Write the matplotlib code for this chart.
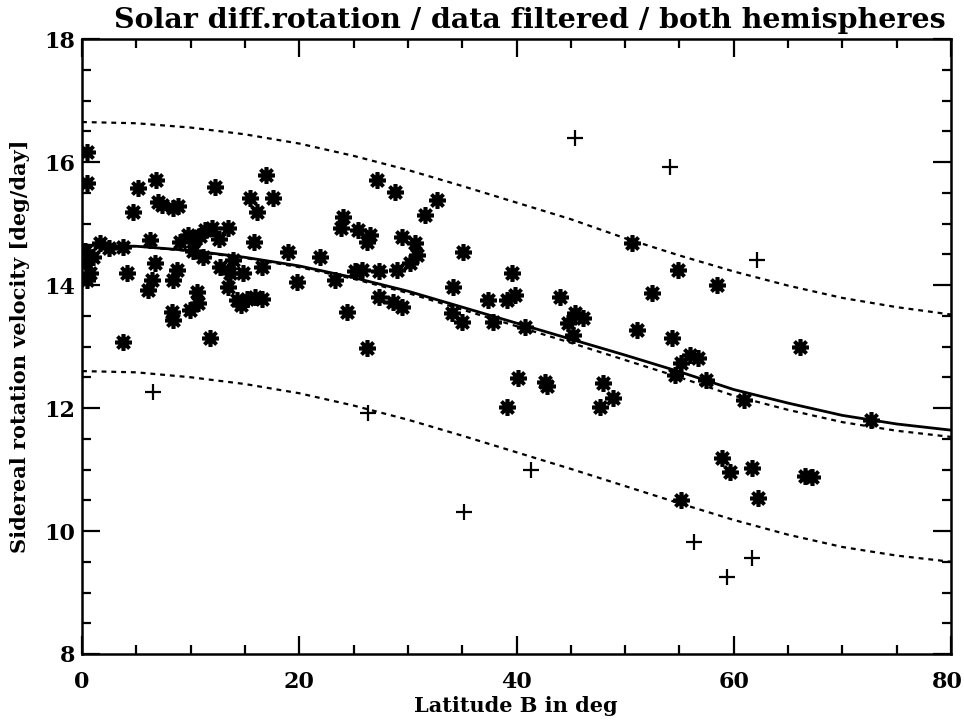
import matplotlib
matplotlib.use("Agg")
import matplotlib.pyplot as plt
import matplotlib.transforms as mtransforms

# ---- data ----
curve_lat = [0, 5, 10, 15, 20, 25, 30, 35, 40, 45, 50, 55, 60, 65, 70, 75, 80]
fit_solid = [14.65, 14.63, 14.56, 14.45, 14.31, 14.12, 13.90, 13.64, 13.38,
             13.12, 12.86, 12.59, 12.30, 12.08, 11.88, 11.74, 11.64]
fit_dashed = [14.65, 14.63, 14.55, 14.44, 14.29, 14.10, 13.87, 13.60, 13.33,
              13.06, 12.78, 12.50, 12.20, 11.97, 11.77, 11.63, 11.53]
upper_band = [16.65, 16.63, 16.56, 16.45, 16.30, 16.10, 15.87, 15.61, 15.34,
              15.07, 14.76, 14.48, 14.22, 13.99, 13.79, 13.64, 13.52]
lower_band = [12.60, 12.58, 12.50, 12.39, 12.24, 12.04, 11.81, 11.55, 11.28,
              11.01, 10.73, 10.45, 10.18, 9.94, 9.74, 9.60, 9.50]

star_lat = [0.5, 0.5, 0.4, 0.7, 0.5, 1.0, 1.7, 0.3,
            5.2, 6.8, 4.7, 7.0, 7.4, 8.4, 8.8,
            12.2, 16.9, 15.5, 17.6, 16.1, 24.0,
            3.8, 6.3, 9.0, 9.8, 10.4, 10.9, 12.0, 13.4, 15.8, 19.0, 21.9, 11.3, 12.6,
            4.1, 6.7, 6.4, 8.7, 8.4, 11.1, 12.7, 13.9, 13.6, 14.8, 16.6, 19.8, 23.3, 10.2, 2.5,
            6.1, 10.6, 13.4, 14.3, 15.2, 15.9, 16.6, 14.6, 8.3, 8.4, 9.9, 10.7, 11.8, 3.8,
            27.2, 28.8, 32.7, 31.6,
            23.8, 25.4, 26.5, 26.2, 29.5, 30.7, 30.8, 30.2, 29.0, 35.1, 25.1, 25.8, 27.3,
            27.3, 28.6, 29.5, 24.4, 26.2, 34.2, 34.1, 35.0, 37.4, 37.8, 39.1, 39.9, 39.6,
            40.8, 44.0, 45.4, 46.1, 44.7, 45.2, 40.1, 42.6, 42.8, 48.0, 48.9, 39.1, 47.7,
            50.6, 54.9, 58.5, 52.5, 51.1, 54.3, 56.0, 56.7, 55.1, 54.6, 57.4, 60.9, 66.1,
            72.6, 58.9, 59.7, 61.7, 62.2, 66.6, 67.2, 55.1]
star_vel = [16.16, 15.66, 14.36, 14.20, 14.08, 14.45, 14.68, 14.55,
            15.58, 15.71, 15.19, 15.35, 15.30, 15.25, 15.28,
            15.59, 15.79, 15.41, 15.41, 15.19, 15.10,
            14.62, 14.73, 14.70, 14.82, 14.75, 14.80, 14.93, 14.93, 14.70, 14.54, 14.46, 14.90, 14.75,
            14.20, 14.36, 14.08, 14.25, 14.08, 14.46, 14.29, 14.41, 14.20, 14.20, 14.29, 14.05, 14.08, 14.55, 14.60,
            13.92, 13.89, 13.97, 13.76, 13.77, 13.80, 13.77, 13.68, 13.56, 13.43, 13.59, 13.71, 13.14, 13.07,
            15.71, 15.51, 15.38, 15.14,
            14.93, 14.89, 14.81, 14.70, 14.78, 14.68, 14.49, 14.36, 14.25, 14.54, 14.22, 14.25, 14.22,
            13.80, 13.72, 13.65, 13.56, 12.98, 13.97, 13.54, 13.40, 13.76, 13.40, 13.76, 13.84, 14.20,
            13.32, 13.80, 13.54, 13.46, 13.38, 13.19, 12.49, 12.42, 12.36, 12.41, 12.16, 12.02, 12.02,
            14.68, 14.24, 14.00, 13.87, 13.27, 13.14, 12.86, 12.81, 12.73, 12.54, 12.46, 12.13, 12.99,
            11.80, 11.19, 10.96, 11.02, 10.54, 10.90, 10.88, 10.50]

plus_lat = [45.4, 54.1, 62.1, 6.5, 26.3, 41.3, 35.2, 56.3, 61.7, 59.4]
plus_vel = [16.39, 15.92, 14.41, 12.26, 11.92, 10.99, 10.31, 9.82, 9.56, 9.25]

title = "Solar diff.rotation / data filtered / both hemispheres"
xlabel = "Latitude B in deg"
ylabel = "Sidereal rotation velocity [deg/day]"
xticks = [0, 20, 40, 60, 80]
yticks = [8, 10, 12, 14, 16, 18]

# ---- figure ----
W, H = 964, 721
fig = plt.figure(figsize=(W / 100, H / 100), dpi=100)
ax = fig.add_axes([82 / W, 1 - 654 / H, 869 / W, 615 / H])

font = dict(family="DejaVu Serif", weight="bold")

dash = (0, (2.2, 2.2))
ax.plot(curve_lat, upper_band, color="black", lw=1.6, ls=dash, zorder=2)
ax.plot(curve_lat, lower_band, color="black", lw=1.6, ls=dash, zorder=2)
ax.plot(curve_lat, fit_dashed, color="black", lw=1.6, ls=dash, zorder=2)
ax.plot(curve_lat, fit_solid, color="black", lw=2.0, ls="-", zorder=3)

ax.plot(star_lat, star_vel, ls="none", marker=(8, 2, 0), markersize=12,
        markeredgewidth=2.6, color="black", zorder=4)
ax.plot(plus_lat, plus_vel, ls="none", marker="+", markersize=12,
        markeredgewidth=1.6, color="black", zorder=4)

ax.set_xlim(0, 80)
ax.set_ylim(8, 18)
ax.set_xticks(xticks)
ax.set_yticks(yticks)
ax.set_xticks(range(0, 81, 5), minor=True)
ax.set_yticks([8 + 0.5 * i for i in range(21)], minor=True)
ax.tick_params(which="both", direction="in", top=True, right=True, width=1.6, color="black")
ax.tick_params(which="major", length=13)
ax.tick_params(which="minor", length=6.5)
ax.tick_params(axis="y", which="major", pad=5)
ax.tick_params(axis="x", which="major", labelbottom=False)
for sp in ax.spines.values():
    sp.set_linewidth(1.8)

for lab in ax.get_yticklabels():
    lab.set_fontfamily("DejaVu Serif")
    lab.set_fontweight("bold")
    lab.set_fontsize(16)

# x tick labels drawn as text so the last one stays inside the canvas
xform = ax.get_xaxis_transform()
for v in xticks:
    tr = xform
    if v == xticks[-1]:
        tr = mtransforms.offset_copy(xform, fig=fig, x=-4, y=0, units="dots")
    ax.text(v, 0, str(v), transform=tr, ha="center", va="top", fontsize=16,
            clip_on=False, **font)
# shift baseline of x tick labels below the axis
for t in ax.texts:
    t.set_y(-0.028)

fig.text(530 / W, 1 - 21 / H, title, ha="center", va="center", fontsize=20.5, **font)
fig.text(516 / W, 1 - 706 / H, xlabel, ha="center", va="center", fontsize=15, **font)
fig.text(20 / W, 1 - 346 / H, ylabel, ha="center", va="center", rotation=90, fontsize=15, **font)

fig.savefig("out.png", dpi=100)
